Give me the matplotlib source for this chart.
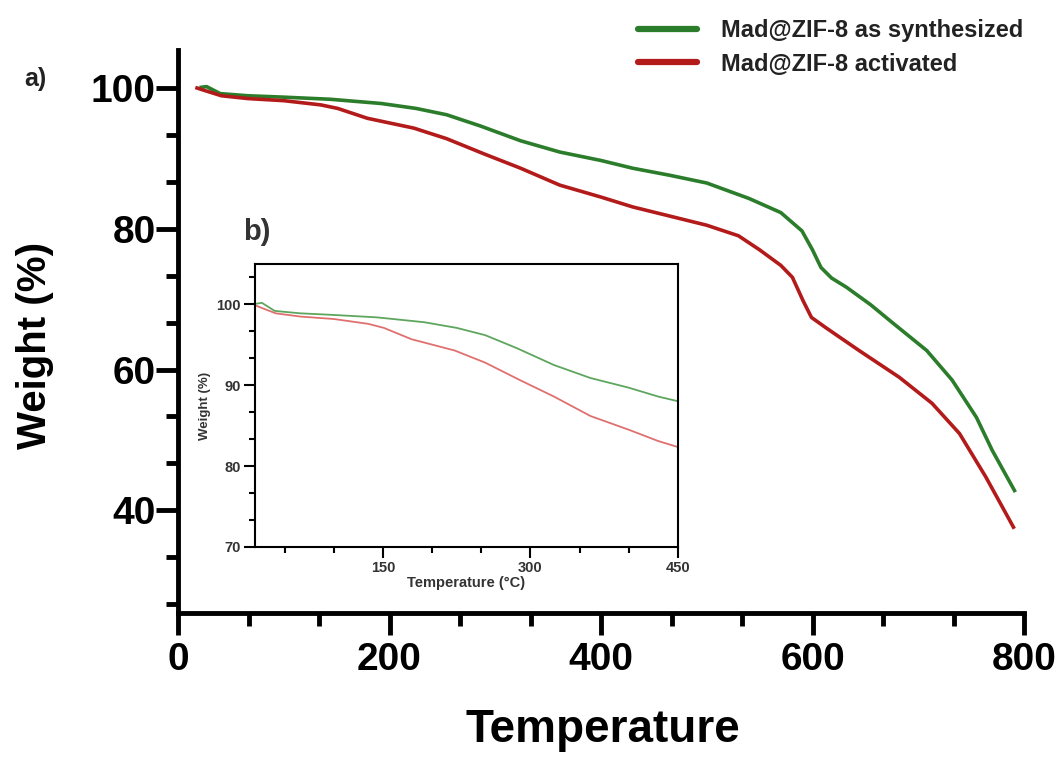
import matplotlib
matplotlib.use("Agg")
import matplotlib.pyplot as plt
from matplotlib.ticker import MultipleLocator, AutoMinorLocator

# -------- Data --------
temp_syn = [22, 27, 40, 66, 100, 144, 192, 225, 254, 286, 324, 361, 400, 430, 465,
            500, 540, 570, 590, 600, 608, 618, 632, 655, 676, 708, 732, 755, 770, 791]
weight_syn = [100.1, 100.2, 99.2, 98.9, 98.7, 98.4, 97.8, 97.1, 96.2, 94.6, 92.5, 90.9,
              89.7, 88.6, 87.6, 86.5, 84.3, 82.3, 79.7, 77.0, 74.5, 73.0, 71.7, 69.2,
              66.6, 62.7, 58.5, 53.2, 48.5, 42.8]

temp_act = [18, 22, 41, 66, 100, 135, 151, 179, 223, 254, 290, 324, 361, 400, 430,
            465, 500, 530, 550, 570, 581, 591, 599, 613, 644, 682, 713, 739, 764, 790]
weight_act = [100.0, 99.8, 98.9, 98.5, 98.2, 97.6, 97.1, 95.7, 94.3, 92.8, 90.6, 88.6,
              86.2, 84.5, 83.1, 81.8, 80.5, 79.0, 77.0, 74.8, 73.1, 69.8, 67.4, 65.9,
              62.7, 58.9, 55.2, 50.9, 44.7, 37.6]

labels = ["Mad@ZIF-8 as synthesized", "Mad@ZIF-8 activated"]

plt.rcParams["font.family"] = ["Liberation Sans", "DejaVu Sans"]

green, red = "#2b7d2b", "#b31b1b"

fig = plt.figure(figsize=(10.62, 7.65), dpi=100)

# -------- Main axes --------
ax = fig.add_axes([178 / 1062, 152 / 765, 846 / 1062, 563 / 765])
l1, = ax.plot(temp_syn, weight_syn, color=green, lw=2.6, label=labels[0],
              solid_joinstyle="round")
l2, = ax.plot(temp_act, weight_act, color=red, lw=2.6, label=labels[1],
              solid_joinstyle="round")
ax.set_xlim(0, 800)
ax.set_ylim(25.4, 105.4)
ax.xaxis.set_major_locator(MultipleLocator(200))
ax.yaxis.set_major_locator(MultipleLocator(20))
ax.xaxis.set_minor_locator(AutoMinorLocator(3))
ax.yaxis.set_minor_locator(AutoMinorLocator(3))
for s in ["top", "right"]:
    ax.spines[s].set_visible(False)
for s in ["left", "bottom"]:
    ax.spines[s].set_linewidth(3.5)
ax.tick_params(which="major", length=16, width=3.5, direction="out")
ax.tick_params(which="minor", length=9, width=3.5, direction="out")
ax.tick_params(axis="y", pad=0)
ax.tick_params(axis="x", pad=5)
for lab in ax.get_xticklabels() + ax.get_yticklabels():
    lab.set_fontweight("bold")
    lab.set_fontsize(28)

ax.set_xlabel("Temperature", fontsize=33, fontweight="bold")
ax.set_ylabel("Weight (%)", fontsize=29, fontweight="bold")
ax.xaxis.set_label_coords(0.502, -0.208)
ax.xaxis.label.set_va("center")
ax.yaxis.set_label_coords(-0.169, 0.476)
ax.yaxis.label.set_va("center")

leg = fig.legend(handles=[l1, l2], loc="upper left", bbox_to_anchor=(638 / 1062, 0.975),
                 frameon=False, fontsize=17, handlelength=2.5, handletextpad=1.0,
                 labelspacing=0.45, borderpad=0, borderaxespad=0)
for ln in leg.get_lines():
    ln.set_linewidth(4.5)
    ln.set_solid_capstyle("round")
for t in leg.get_texts():
    t.set_fontweight("bold")
    t.set_color("#222222")

fig.text(35 / 1062, 1 - 79 / 765, "a)", fontsize=18, fontweight="bold",
         ha="center", va="center", color="#222222")
fig.text(257 / 1062, 1 - 232 / 765, "b)", fontsize=21, fontweight="bold",
         ha="center", va="center", color="#333333")

# -------- Inset --------
axi = fig.add_axes([255 / 1062, 218 / 765, 423 / 1062, 283 / 765])
axi.plot(temp_syn, weight_syn, color="#5ea65e", lw=1.3, solid_joinstyle="round")
axi.plot(temp_act, weight_act, color="#e07070", lw=1.3, solid_joinstyle="round")
axi.set_xlim(20, 450)
axi.set_ylim(70, 105)
axi.xaxis.set_major_locator(MultipleLocator(150))
axi.yaxis.set_major_locator(MultipleLocator(10))
axi.xaxis.set_minor_locator(AutoMinorLocator(3))
axi.yaxis.set_minor_locator(AutoMinorLocator(3))
for s in axi.spines.values():
    s.set_linewidth(1.5)
axi.tick_params(which="major", length=8, width=1.5, direction="out",
                labelsize=10.5, labelcolor="#333333", pad=2)
axi.tick_params(which="minor", length=4.5, width=1.5, direction="out")
for lab in axi.get_xticklabels() + axi.get_yticklabels():
    lab.set_fontweight("bold")
axi.set_xlabel("Temperature (°C)", fontsize=10.5, fontweight="bold",
               color="#333333", labelpad=1)
axi.set_ylabel("Weight (%)", fontsize=9.5, fontweight="bold",
               color="#333333", labelpad=4)

fig.savefig("out.png", dpi=100)
